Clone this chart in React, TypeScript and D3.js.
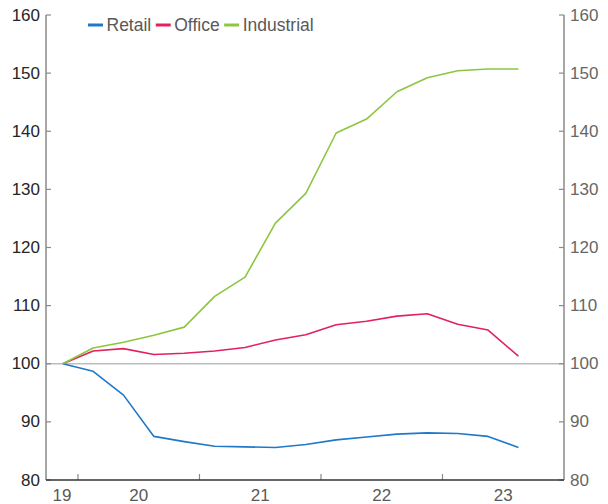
import { useRef, useEffect } from 'react';
import * as d3 from 'd3';

// quarterly index, 2019 Q4 = 100
const QUARTERS = [
  '2019-Q4', '2020-Q1', '2020-Q2', '2020-Q3', '2020-Q4',
  '2021-Q1', '2021-Q2', '2021-Q3', '2021-Q4',
  '2022-Q1', '2022-Q2', '2022-Q3', '2022-Q4',
  '2023-Q1', '2023-Q2', '2023-Q3',
];
const RETAIL = [100, 98.7, 94.6, 87.5, 86.6, 85.8, 85.7, 85.6, 86.1, 86.9, 87.4, 87.9, 88.1, 88.0, 87.5, 85.6];
const OFFICE = [100, 102.2, 102.6, 101.6, 101.8, 102.2, 102.8, 104.1, 105.0, 106.7, 107.3, 108.2, 108.6, 106.8, 105.8, 101.3];
const INDUSTRIAL = [100, 102.7, 103.7, 104.9, 106.3, 111.6, 114.9, 124.2, 129.3, 139.7, 142.1, 146.8, 149.2, 150.4, 150.7, 150.7];

const YEARS = [2019, 2020, 2021, 2022, 2023];
const YEAR_LABELS = ['19', '20', '21', '22', '23'];
const Y_TICKS = [80, 90, 100, 110, 120, 130, 140, 150, 160];

const SERIES = [
  { name: 'Retail', values: RETAIL, color: '#1f78c8' },
  { name: 'Office', values: OFFICE, color: '#e2215f' },
  { name: 'Industrial', values: INDUSTRIAL, color: '#8cc63f' },
];

const FONT = '"Liberation Sans", Arial, sans-serif';

function quarterMid(q: string) {
  const [y, qq] = q.split('-Q');
  return +y + (+qq - 1) / 4 + 0.125;
}

export default function App() {
  const ref = useRef<SVGSVGElement>(null);

  useEffect(() => {
    if (!ref.current) return;
    const svg = d3.select(ref.current);
    svg.selectAll('*').remove();

    const width = 608;
    const height = 504;
    const left = 46;
    const right = 564;
    const top = 15;
    const bottom = 480;

    const x = d3.scaleLinear().domain([2019.737, 2024]).range([left, right]);
    const y = d3.scaleLinear().domain([80, 160]).range([bottom, top]);

    svg.attr('viewBox', `0 0 ${width} ${height}`);

    // reference line at 100
    svg.append('line')
      .attr('x1', left).attr('x2', right)
      .attr('y1', y(100)).attr('y2', y(100))
      .attr('stroke', '#bdbdbd').attr('stroke-width', 1.5);

    // left / right axes
    for (const ax of [left, right]) {
      svg.append('line')
        .attr('x1', ax).attr('x2', ax)
        .attr('y1', top).attr('y2', bottom)
        .attr('stroke', '#8a8a8a').attr('stroke-width', 1.5);
      const dir = ax === left ? 1 : -1;
      svg.append('g').selectAll('line').data(Y_TICKS).join('line')
        .attr('x1', ax).attr('x2', ax + dir * 5)
        .attr('y1', (d) => y(d)).attr('y2', (d) => y(d))
        .attr('stroke', '#8a8a8a').attr('stroke-width', 1.2);
    }

    svg.append('g').selectAll('text').data(Y_TICKS).join('text')
      .attr('x', left - 6).attr('y', (d) => y(d))
      .attr('text-anchor', 'end').attr('dominant-baseline', 'central')
      .attr('font-family', FONT).attr('font-size', 17).attr('fill', '#262626')
      .text((d) => d);

    svg.append('g').selectAll('text').data(Y_TICKS).join('text')
      .attr('x', right + 6).attr('y', (d) => y(d))
      .attr('text-anchor', 'start').attr('dominant-baseline', 'central')
      .attr('font-family', FONT).attr('font-size', 17).attr('fill', '#666666')
      .text((d) => d);

    // bottom axis
    svg.append('g').selectAll('line').data(YEARS.slice(1)).join('line')
      .attr('x1', (d) => x(d)).attr('x2', (d) => x(d))
      .attr('y1', bottom).attr('y2', bottom - 6)
      .attr('stroke', '#8a8a8a').attr('stroke-width', 1.2);
    svg.append('line')
      .attr('x1', left).attr('x2', right)
      .attr('y1', bottom).attr('y2', bottom)
      .attr('stroke', '#333333').attr('stroke-width', 1.5);

    const [d0, d1] = x.domain();
    svg.append('g').selectAll('text').data(YEARS).join('text')
      .attr('x', (d) => (x(Math.max(d, d0)) + x(Math.min(d + 1, d1))) / 2)
      .attr('y', 501)
      .attr('text-anchor', 'middle')
      .attr('font-family', FONT).attr('font-size', 17).attr('fill', '#595959')
      .text((_, i) => YEAR_LABELS[i]);

    // series
    const line = d3.line<number>()
      .x((_, i) => x(quarterMid(QUARTERS[i])))
      .y((d) => y(d));

    for (const s of SERIES) {
      svg.append('path')
        .attr('d', line(s.values))
        .attr('fill', 'none')
        .attr('stroke', s.color)
        .attr('stroke-width', 1.6)
        .attr('stroke-linejoin', 'round');
    }

    // legend
    const legend = svg.append('g').attr('transform', 'translate(88, 25)');
    let lx = 0;
    for (const s of SERIES) {
      legend.append('line')
        .attr('x1', lx).attr('x2', lx + 15)
        .attr('y1', 0).attr('y2', 0)
        .attr('stroke', s.color).attr('stroke-width', 3);
      const t = legend.append('text')
        .attr('x', lx + 18.5).attr('y', 0)
        .attr('dominant-baseline', 'central')
        .attr('font-family', FONT).attr('font-size', 17.5).attr('fill', '#595959')
        .text(s.name);
      const w = (t.node() as SVGTextElement).getComputedTextLength();
      lx += 18.5 + w + 4.5;
    }
  }, []);

  return (
    <svg
      ref={ref}
      width={608}
      height={504}
      style={{ position: 'absolute', left: 0, top: 0, background: '#fff' }}
    />
  );
}
